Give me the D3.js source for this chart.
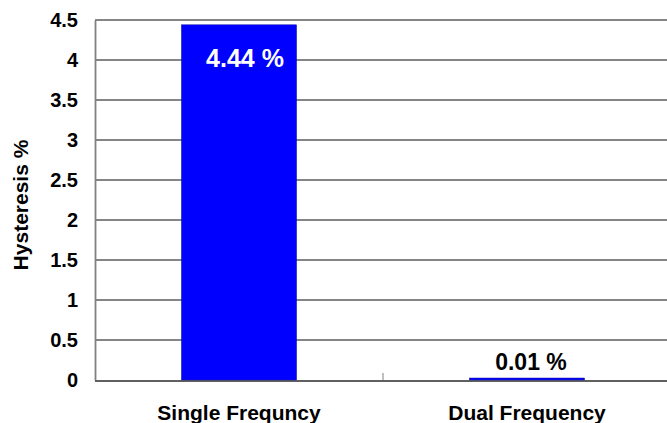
<!DOCTYPE html>
<html><head><meta charset="utf-8">
<script src="https://cdn.jsdelivr.net/npm/d3@7"></script>
<style>body{margin:0;background:#fff;overflow:hidden}svg{display:block}text{font-family:"Liberation Sans",Arial,sans-serif;font-weight:bold}</style>
</head><body>
<script>
const categories = ["Single Frequncy", "Dual Frequency"];
const values = [4.44, 0.01];
const valueLabels = ["4.44 %", "0.01 %"];
const yTicks = [0, 0.5, 1, 1.5, 2, 2.5, 3, 3.5, 4, 4.5];
const yTitle = "Hysteresis %";

const W = 667, H = 423;
const m = {left: 95, top: 20, right: -4, bottom: 43};
const svg = d3.select("body").append("svg").attr("width", W).attr("height", H);
const x = d3.scaleBand().domain(categories).range([m.left, W - m.right]).paddingInner(0.6).paddingOuter(0.3);
const y = d3.scaleLinear().domain([0, 4.5]).range([H - m.bottom, m.top]);

// gridlines
svg.append("g").selectAll("line").data(yTicks.filter(d => d > 0)).join("line")
  .attr("x1", m.left).attr("x2", W).attr("y1", d => y(d)).attr("y2", d => y(d))
  .attr("stroke", "#858585").attr("stroke-width", 1.8);

// y axis
const ya = svg.append("g").attr("transform", `translate(${m.left},0)`)
  .call(d3.axisLeft(y).tickValues(yTicks).tickSize(0).tickPadding(17).tickFormat(d3.format("~g")));
ya.select(".domain").attr("stroke", "#808080").attr("stroke-width", 1.8);
ya.selectAll("text").attr("font-size", 20).attr("fill", "#000").style("font-family", "'Liberation Sans',Arial,sans-serif").style("font-weight", "bold");

// x axis
const xa = svg.append("g").attr("transform", `translate(0,${y(0)})`)
  .call(d3.axisBottom(x).tickSize(0).tickPadding(25));
xa.select(".domain").remove();
svg.append("line").attr("x1", m.left).attr("x2", W).attr("y1", y(0) + 1).attr("y2", y(0) + 1)
  .attr("stroke", "#606060").attr("stroke-width", 2);
xa.selectAll("text").attr("font-size", 21).attr("fill", "#000").style("font-family", "'Liberation Sans',Arial,sans-serif").style("font-weight", "bold");
// category separator tick
const sep = (x(categories[0]) + x.bandwidth() + x(categories[1])) / 2;
svg.append("line").attr("x1", sep).attr("x2", sep).attr("y1", y(0) - 7).attr("y2", y(0)).attr("stroke", "#808080").attr("stroke-width", 1);

// bars
svg.append("g").selectAll("rect").data(values).join("rect")
  .attr("x", (d, i) => x(categories[i])).attr("width", x.bandwidth())
  .attr("y", d => Math.min(y(d), y(0) - 2)).attr("height", d => Math.max(2, y(0) - y(d)))
  .attr("fill", "#0000ff").attr("stroke", "#1a1aa0").attr("stroke-width", 0.5);

// value labels
svg.append("g").selectAll("text").data(values).join("text")
  .attr("x", (d, i) => x(categories[i]) + x.bandwidth() / 2 + (i === 0 ? 6 : 4))
  .attr("y", (d, i) => i === 0 ? y(d) + 42 : y(d) - 9)
  .attr("text-anchor", "middle").attr("font-size", (d, i) => i === 0 ? 25 : 23)
  .attr("fill", (d, i) => i === 0 ? "#fff" : "#000")
  .text((d, i) => valueLabels[i]);

// y title
svg.append("text").attr("transform", `translate(28,205) rotate(-90)`)
  .attr("text-anchor", "middle").attr("font-size", 21).text(yTitle);
</script>
</body></html>
